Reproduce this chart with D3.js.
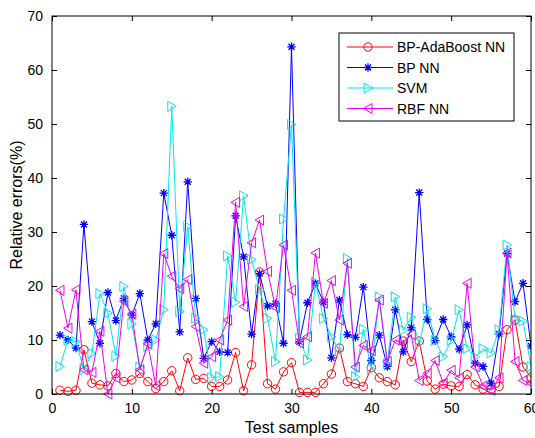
<!DOCTYPE html>
<html>
<head>
<meta charset="utf-8">
<script src="https://cdn.jsdelivr.net/npm/d3@7"></script>
<style>
  html, body { margin: 0; padding: 0; background: #fff; }
  svg { display: block; font-family: Arial, "Liberation Sans", sans-serif; }
</style>
</head>
<body>
<svg id="chart" width="535" height="438"></svg>
<script>
// ---- data ----
const samples = d3.range(1, 61);
const xTicks = [0, 10, 20, 30, 40, 50, 60];
const yTicks = [0, 10, 20, 30, 40, 50, 60, 70];
const seriesNames = ["BP-AdaBoost NN", "BP NN", "SVM", "RBF NN"];

const adaboost = [0.7,0.5,0.7,8.2,2.0,1.7,1.5,3.8,2.3,2.6, 3.8,2.3,1.0,2.3,4.3,0.6,6.7,2.7,2.9,1.4,
                  1.4,2.6,7.7,0.6,5.4,22.6,1.9,0.9,4.1,5.8, 0.3,0.3,0.3,1.9,3.7,8.5,2.3,1.9,1.4,4.9,
                  3.0,2.3,1.7,9.8,6.0,9.8,2.4,0.9,1.8,1.5, 1.4,3.6,1.7,0.9,0.9,1.4,11.9,13.7,5.0,3.1];
const bpnn = [10.9,10.0,8.5,31.4,13.4,9.4,18.8,13.6,17.7,14.6, 18.6,10.0,13.0,37.2,29.4,11.5,39.3,17.7,6.6,9.7,
              7.8,7.7,33.0,25.4,11.1,22.3,16.3,16.7,9.4,64.3, 9.7,16.9,20.5,17.0,6.7,17.4,11.0,10.5,19.8,6.2,
              10.9,5.1,15.6,7.8,12.3,37.3,13.8,9.9,13.8,10.6, 8.3,12.8,5.7,5.1,2.0,11.1,26.0,17.1,20.5,8.9];
const svm = [5.1,10.0,9.7,4.5,7.5,18.6,15.0,7.0,19.9,13.0, 5.0,8.8,10.0,15.6,53.3,15.3,31.0,14.0,11.9,3.0,
             3.2,25.6,17.0,36.7,24.9,19.3,14.0,6.0,32.4,49.9, 10.3,6.3,20.7,14.0,10.6,8.0,25.1,3.2,12.0,4.6,
             18.0,5.6,18.0,11.8,14.2,9.4,15.8,9.9,6.9,9.9, 15.6,8.4,6.9,8.4,7.6,11.9,27.6,13.8,13.5,5.1];
const rbfnn = [19.2,12.2,19.3,4.5,4.0,11.6,0.0,3.0,17.2,14.8, 4.5,9.3,1.5,26.0,21.8,19.5,21.2,12.5,5.7,6.9,
               10.0,13.7,35.5,16.2,28.0,32.2,22.7,16.0,27.6,19.2, 9.4,10.6,26.1,16.8,21.0,13.7,24.2,5.0,9.0,8.0,
               17.4,6.0,10.0,9.4,11.0,2.5,3.8,6.2,2.0,4.4, 3.0,20.5,5.0,1.5,0.7,3.0,26.1,6.0,2.5,2.0];

const seriesValues = [adaboost, bpnn, svm, rbfnn];
const seriesColors = ["#ff0000", "#0000ff", "#00e5ee", "#ee00ee"];
const seriesMarkers = ["circle", "star", "triRight", "triLeft"];

// ---- layout ----
const svg = d3.select("#chart");
const L = 52, R = 531, T = 16, B = 394;
const x = d3.scaleLinear().domain([0, 60]).range([L, R]);
const y = d3.scaleLinear().domain([0, 70]).range([B, T]);

// clip for lines inside the plot region
svg.append("defs").append("clipPath").attr("id", "clip")
  .append("rect").attr("x", L).attr("y", T - 1).attr("width", R - L).attr("height", B - T + 12);

// markers
function markerPath(type, s) {
  if (type === "circle") {
    return `M${-s},0A${s},${s} 0 1,0 ${s},0A${s},${s} 0 1,0 ${-s},0Z`;
  }
  if (type === "star") {
    const d = s * 0.72;
    return `M${-s},0L${s},0M0,${-s}L0,${s}M${-d},${-d}L${d},${d}M${-d},${d}L${d},${-d}`;
  }
  if (type === "triRight") {
    return `M${-s * 0.8},${-s}L${s * 0.9},0L${-s * 0.8},${s}Z`;
  }
  if (type === "triLeft") {
    return `M${s * 0.8},${-s}L${-s * 0.9},0L${s * 0.8},${s}Z`;
  }
}
const markerSize = { circle: 4.2, star: 4.2, triRight: 5, triLeft: 5 };

const line = d3.line().x((d, i) => x(samples[i])).y(d => y(d));

const plot = svg.append("g").attr("clip-path", "url(#clip)");
seriesValues.forEach((vals, k) => {
  const g = plot.append("g");
  g.append("path").datum(vals)
    .attr("d", line)
    .attr("fill", "none")
    .attr("stroke", seriesColors[k])
    .attr("stroke-width", 1);
  g.selectAll("path.m").data(vals).enter().append("path")
    .attr("class", "m")
    .attr("transform", (d, i) => `translate(${x(samples[i])},${y(d)})`)
    .attr("d", markerPath(seriesMarkers[k], markerSize[seriesMarkers[k]]))
    .attr("fill", "none")
    .attr("stroke", seriesColors[k])
    .attr("stroke-width", seriesMarkers[k] === "star" ? 1.3 : 1);
});

// axes (MATLAB style: ticks inside, box all around)
const axisG = svg.append("g");
axisG.append("rect").attr("x", L).attr("y", T).attr("width", R - L).attr("height", B - T)
  .attr("fill", "none").attr("stroke", "#000").attr("stroke-width", 1);

const xb = axisG.append("g").attr("transform", `translate(0,${B})`)
  .call(d3.axisBottom(x).tickValues(xTicks).tickSize(-5).tickPadding(9).tickFormat(d3.format("d")));
const xt = axisG.append("g").attr("transform", `translate(0,${T})`)
  .call(d3.axisTop(x).tickValues(xTicks).tickSize(-5).tickFormat(""));
const yl = axisG.append("g").attr("transform", `translate(${L},0)`)
  .call(d3.axisLeft(y).tickValues(yTicks).tickSize(-5).tickPadding(9).tickFormat(d3.format("d")));
const yr = axisG.append("g").attr("transform", `translate(${R},0)`)
  .call(d3.axisRight(y).tickValues(yTicks).tickSize(-5).tickFormat(""));
[xb, xt, yl, yr].forEach(g => {
  g.select(".domain").remove();
  g.selectAll("line").attr("stroke", "#000");
  g.selectAll("text").attr("fill", "#000").style("font-size", "14px")
    .style("font-family", "Arial, 'Liberation Sans', sans-serif");
});

// axis titles
svg.append("text").attr("x", (L + R) / 2).attr("y", 433)
  .attr("text-anchor", "middle").style("font-size", "16px").attr("fill", "#000")
  .text("Test samples");
svg.append("text").attr("transform", `translate(22,${(T + B) / 2}) rotate(-90)`)
  .attr("text-anchor", "middle").style("font-size", "16px").attr("fill", "#000")
  .text("Relative errors(%)");

// legend
const lg = svg.append("g");
lg.append("rect").attr("x", 339).attr("y", 33).attr("width", 175).attr("height", 88)
  .attr("fill", "#fff").attr("stroke", "#000").attr("stroke-width", 1);
seriesNames.forEach((name, k) => {
  const yy = 47 + k * 20.5;
  lg.append("line").attr("x1", 347).attr("x2", 393).attr("y1", yy).attr("y2", yy)
    .attr("stroke", seriesColors[k]).attr("stroke-width", 1);
  lg.append("path").attr("transform", `translate(368,${yy})`)
    .attr("d", markerPath(seriesMarkers[k], markerSize[seriesMarkers[k]]))
    .attr("fill", "none").attr("stroke", seriesColors[k])
    .attr("stroke-width", seriesMarkers[k] === "star" ? 1.3 : 1);
  lg.append("text").attr("x", 397).attr("y", yy + 5)
    .style("font-size", "14px").attr("fill", "#000").text(name);
});
</script>
</body>
</html>
